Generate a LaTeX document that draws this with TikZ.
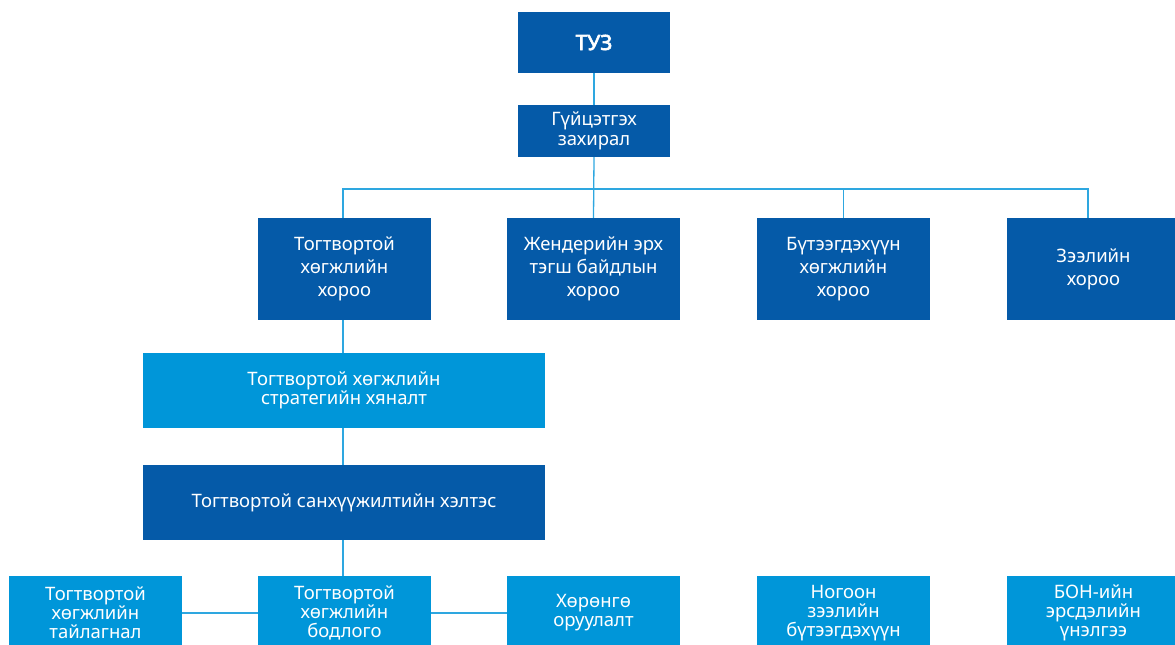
\documentclass[tikz,border=0pt]{standalone}
\usepackage{fontspec}
\setmainfont{Noto Sans}[AutoFakeBold=3]
\definecolor{darkblue}{HTML}{055AA8}
\definecolor{lightblue}{HTML}{0096D9}
\definecolor{linkblue}{HTML}{2EA7E0}
\begin{document}
\begin{tikzpicture}[x=1pt,y=-1pt]
\tikzstyle{unit}=[rectangle,fill=darkblue,text=white,align=center,inner sep=0pt,font=\fontsize{18.5}{23}\selectfont]
\tikzstyle{dept}=[unit,fill=lightblue]
\tikzstyle{link}=[draw=linkblue,line width=1.3pt]
\useasboundingbox (0,0) rectangle (1175,645);
\node[unit,minimum width=152pt,minimum height=61pt,font=\fontsize{21}{23}\selectfont\bfseries] (tuz) at (594,42.5) {ТУЗ};
\node[unit,minimum width=152pt,minimum height=52pt,font=\fontsize{18.5}{20}\selectfont] (ceo) at (594,131) {Гүйцэтгэх\\захирал};
\foreach \name/\point/\txt in {
	c1/{344.5,269}/{Тогтвортой\\хөгжлийн\\хороо},
	c2/{593.5,269}/{Жендерийн эрх\\тэгш байдлын\\хороо},
	c3/{843.5,269}/{Бүтээгдэхүүн\\хөгжлийн\\хороо},
	c4/{1093.5,269}/{Зээлийн\\хороо}}
	\node[unit,minimum width=173pt,minimum height=102pt] (\name) at (\point) {\txt};
\node[dept,minimum width=402pt,minimum height=75pt,font=\fontsize{18.5}{19}\selectfont] (strat) at (344,390.5) {Тогтвортой хөгжлийн\\стратегийн хяналт};
\node[unit,minimum width=402pt,minimum height=75pt] (fin) at (344,502.5) {Тогтвортой санхүүжилтийн хэлтэс};
\foreach \name/\point/\txt in {
	d1/{95.5,613}/{Тогтвортой\\хөгжлийн\\тайлагнал},
	d2/{344.5,613}/{Тогтвортой\\хөгжлийн\\бодлого},
	d3/{593.5,613}/{Хөрөнгө\\оруулалт},
	d4/{843.5,613}/{Ногоон\\зээлийн\\бүтээгдэхүүн},
	d5/{1093.5,613}/{БОН-ийн\\эрсдэлийн\\үнэлгээ}}
	\node[dept,minimum width=173pt,minimum height=74pt,font=\fontsize{18.5}{19}\selectfont] (\name) at (\point) {\txt};
\coordinate (bus) at (594,189);
\draw[link] (tuz) -- (ceo);
\draw[link] (ceo.south) -- (c2.north);
\draw[link] ([xshift=-1.5pt]c1.north) |- (bus) -| ([xshift=-5.5pt]c4.north);
\draw[link] (c3.north) -- (c3.north |- bus);
\draw[link] ([xshift=-1.5pt]c1.south) -- ([xshift=-1.5pt]c1.south |- strat.north);
\draw[link] ([xshift=-1pt]strat.south) -- ([xshift=-1pt]fin.north);
\draw[link] ([xshift=-1pt]fin.south) -- ([xshift=-1pt]fin.south |- d2.north);
\draw[link] (d1) -- (d2);
\draw[link] (d2) -- (d3);
\end{tikzpicture}
\end{document}
